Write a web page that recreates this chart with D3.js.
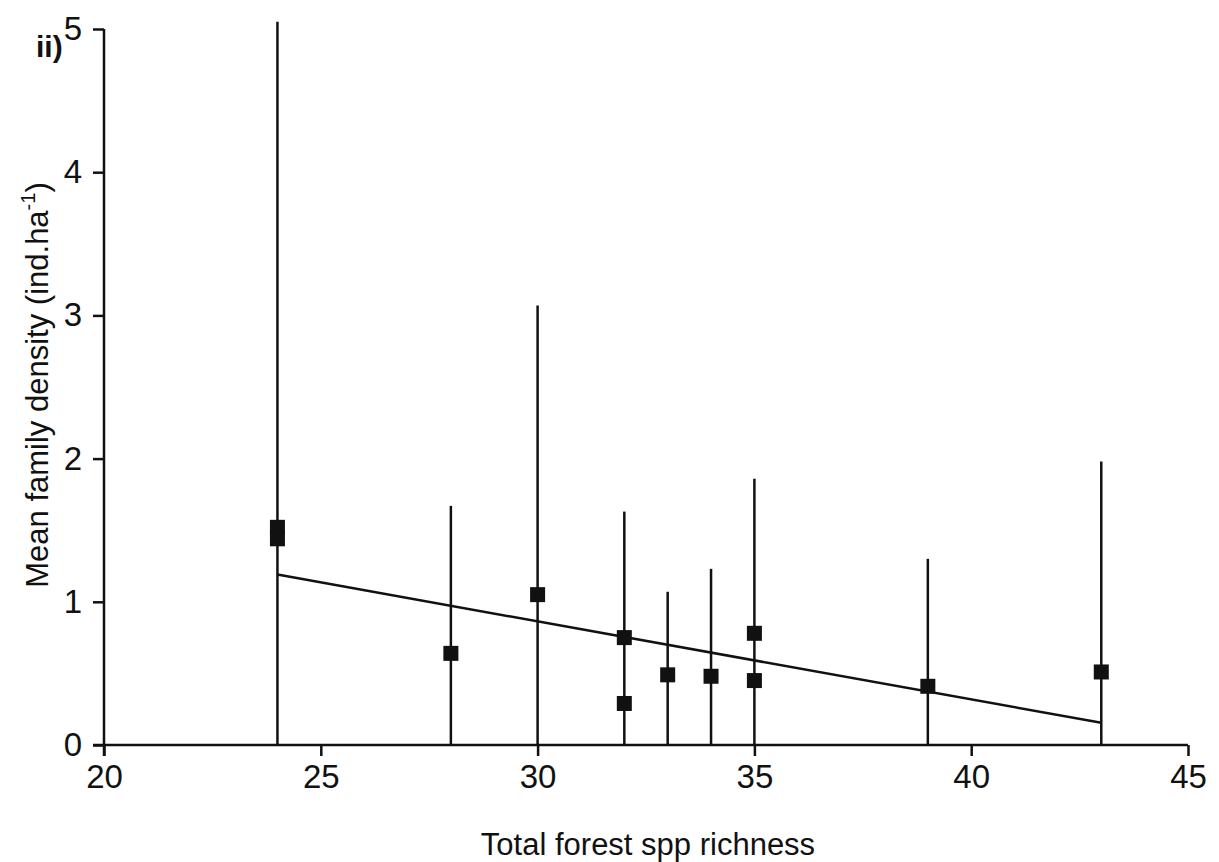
<!DOCTYPE html>
<html>
<head>
<meta charset="utf-8">
<script src="https://cdn.jsdelivr.net/npm/d3@7"></script>
<style>
  html, body { margin: 0; padding: 0; background: #fff; }
  svg { display: block; font-family: "Liberation Sans", Arial, sans-serif; }
</style>
</head>
<body>
<svg id="chart" width="1219" height="862"></svg>
<script>
// Site observations: forest species richness vs mean family density
const richness    = [24,   24,   28,   30,   32,   32,   33,   34,   35,   35,   39,   43];
const meanDensity = [1.52, 1.44, 0.64, 1.05, 0.75, 0.29, 0.49, 0.48, 0.78, 0.45, 0.41, 0.51];

// Upper end of each error bar (lower ends run to the axis at 0)
const barX     = [24,   28,   30,   32,   33,   34,   35,   39,   43];
const barUpper = [5.05, 1.67, 3.07, 1.63, 1.07, 1.23, 1.86, 1.30, 1.98];

// Fitted regression line endpoints
const fitX = [24, 43];
const fitY = [1.19, 0.155];

const xTicks = [20, 25, 30, 35, 40, 45];
const yTicks = [0, 1, 2, 3, 4, 5];

const svg = d3.select("#chart");
const margin = { left: 104, right: 31, top: 29, bottom: 117 };
const W = 1219, H = 862;

const x = d3.scaleLinear().domain([20, 45]).range([margin.left, W - margin.right]);
const y = d3.scaleLinear().domain([0, 5]).range([H - margin.bottom, margin.top]);

const ink = "#111";
const tickFont = 33;
const titleFont = 31;

// Error bars
svg.append("g").selectAll("line")
  .data(barX.map((d, i) => ({ x: d, hi: barUpper[i] })))
  .join("line")
  .attr("x1", d => x(d.x)).attr("x2", d => x(d.x))
  .attr("y1", y(0)).attr("y2", d => y(d.hi))
  .attr("stroke", ink).attr("stroke-width", 2.5);

// Regression line
svg.append("line")
  .attr("x1", x(fitX[0])).attr("y1", y(fitY[0]))
  .attr("x2", x(fitX[1])).attr("y2", y(fitY[1]))
  .attr("stroke", ink).attr("stroke-width", 2.5);

// X axis
const xAxis = d3.axisBottom(x).tickValues(xTicks).tickFormat(d3.format("d"))
  .tickSize(11).tickPadding(9).tickSizeOuter(0);
const gx = svg.append("g").attr("transform", `translate(0,${y(0)})`).call(xAxis);
gx.select(".domain").attr("stroke", ink).attr("stroke-width", 2.5)
  .attr("d", `M${margin.left - 11},0H${x(45)}`);
gx.selectAll(".tick line").attr("stroke", ink).attr("stroke-width", 2.5);
gx.selectAll(".tick text").attr("fill", ink).attr("font-size", tickFont)
  .attr("font-family", "Liberation Sans, Arial, sans-serif");

// Y axis
const yAxis = d3.axisLeft(y).tickValues(yTicks).tickFormat(d3.format("d"))
  .tickSize(11).tickPadding(11).tickSizeOuter(0);
const gy = svg.append("g").attr("transform", `translate(${x(20)},0)`).call(yAxis);
gy.select(".domain").attr("stroke", ink).attr("stroke-width", 2.5)
  .attr("d", `M0,${y(0) + 11}V${y(5)}`);
gy.selectAll(".tick line").attr("stroke", ink).attr("stroke-width", 2.5);
gy.selectAll(".tick text").attr("fill", ink).attr("font-size", tickFont)
  .attr("font-family", "Liberation Sans, Arial, sans-serif");

// Square markers
const sq = 15;
svg.append("g").selectAll("rect")
  .data(richness.map((d, i) => ({ x: d, v: meanDensity[i] })))
  .join("rect")
  .attr("x", d => x(d.x) - sq / 2)
  .attr("y", d => y(d.v) - sq / 2)
  .attr("width", sq).attr("height", sq)
  .attr("fill", ink);

// Axis titles
svg.append("text")
  .attr("x", 648).attr("y", 855)
  .attr("text-anchor", "middle").attr("font-size", titleFont).attr("fill", ink)
  .text("Total forest spp richness");

const yt = svg.append("text")
  .attr("transform", `translate(48,${385}) rotate(-90)`)
  .attr("text-anchor", "middle").attr("font-size", titleFont).attr("fill", ink);
yt.append("tspan").text("Mean family density (ind.ha");
yt.append("tspan").attr("font-size", 20).attr("dy", -13).text("-1");
yt.append("tspan").attr("dy", 13).text(")");

// Panel label
svg.append("text")
  .attr("x", 36).attr("y", 57)
  .attr("font-size", 30).attr("font-weight", "bold").attr("fill", ink)
  .text("ii)");
</script>
</body>
</html>
